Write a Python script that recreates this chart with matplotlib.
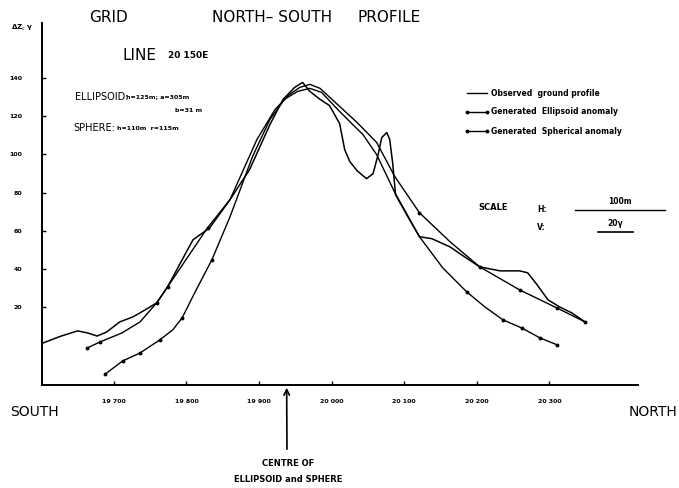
import numpy as np
import matplotlib
matplotlib.use("Agg")
import matplotlib.pyplot as plt
from matplotlib.lines import Line2D

W, H = 679, 488

# northing (m) and anomaly (gamma)
obs_x = [19602, 19626, 19650, 19664, 19677, 19690, 19708, 19726, 19743, 19759,
         19774, 19794, 19809, 19832, 19860, 19887, 19915, 19933, 19949, 19960,
         19970, 19984, 19997, 20011, 20018, 20025, 20035, 20048, 20057, 20064,
         20069, 20076, 20080, 20084, 20088, 20105, 20121, 20138, 20163, 20183,
         20204, 20232, 20259, 20270, 20282, 20298, 20314, 20331, 20349]
obs_y = [1.0, 4.5, 7.4, 6.3, 4.7, 6.8, 12.1, 14.7, 18.4, 22.1,
         30.5, 44.7, 55.2, 61.5, 76.3, 92.1, 115.7, 128.9, 135.2, 137.8,
         133.1, 128.9, 125.7, 116.2, 102.5, 96.3, 91.5, 87.3, 89.9, 99.9,
         108.9, 111.5, 107.8, 95.7, 78.9, 67.3, 56.8, 55.8, 51.5, 46.3,
         41.0, 38.9, 38.9, 37.9, 32.1, 23.7, 20.0, 16.8, 12.1]

ell_x = [19663, 19681, 19711, 19736, 19759, 19774, 19802, 19829, 19860, 19897,
         19922, 19942, 19956, 19970, 19984, 20011, 20035, 20062, 20087, 20121,
         20163, 20204, 20259, 20310, 20349]
ell_y = [-1.6, 1.6, 6.3, 12.1, 22.1, 30.5, 46.3, 61.5, 76.3, 107.8,
         123.6, 131.5, 135.2, 136.8, 134.7, 125.2, 116.8, 106.3, 88.4, 69.4,
         54.2, 41.0, 28.9, 19.5, 12.1]

sph_x = [19688, 19712, 19736, 19763, 19781, 19794, 19812, 19835, 19860, 19891,
         19915, 19935, 19953, 19970, 19986, 20011, 20029, 20043, 20062, 20087,
         20121, 20153, 20186, 20211, 20236, 20262, 20287, 20311]
sph_y = [-15.3, -8.4, -4.2, 2.6, 7.9, 14.2, 27.9, 44.7, 67.3, 98.9,
         118.4, 128.9, 133.1, 134.7, 132.6, 122.6, 115.7, 110.5, 99.9, 80.0,
         56.8, 40.5, 27.9, 20.0, 13.2, 8.9, 3.7, 0.0]

x_ticks = [19700, 19800, 19900, 20000, 20100, 20200, 20300]
x_labels = ["19 700", "19 800", "19 900", "20 000", "20 100", "20 200", "20 300"]
y_ticks = [20, 40, 60, 80, 100, 120, 140]
y_labels = ["20", "40", "60", "80", "100", "120", "140"]

centre_x = 19938


def px(x, y):
    """pixel position -> figure fraction"""
    return x / W, 1 - y / H


fig = plt.figure(figsize=(W / 100, H / 100), dpi=100)
ax = fig.add_axes([42 / W, 1 - 385 / H, (638 - 42) / W, (385 - 23) / H])

ax.plot(obs_x, obs_y, color="black", lw=1.1)
ax.plot(ell_x, ell_y, color="black", lw=1.0, marker="o", ms=1.8,
        markevery=[0, 1, 4, 5, 7, 19, 21, 22, 23, 24])
ax.plot(sph_x, sph_y, color="black", lw=1.0, marker="o", ms=1.8,
        markevery=[0, 1, 2, 3, 5, 7, 22, 24, 25, 26, 27])

ax.set_xlim(19601, 20422)
ax.set_ylim(-21, 169)
for s in ["top", "right"]:
    ax.spines[s].set_visible(False)
ax.spines["left"].set_linewidth(1.4)
ax.spines["bottom"].set_linewidth(1.4)

ax.set_xticks(x_ticks)
ax.set_xticklabels(x_labels, fontsize=4.5, fontweight="bold")
ax.set_yticks(y_ticks)
ax.set_yticklabels(y_labels, fontsize=4.5, fontweight="bold")
ax.tick_params(axis="both", direction="in", length=3, width=1)
ax.tick_params(axis="x", pad=10)
ax.tick_params(axis="y", pad=14)

# titles and notes
fig.text(*px(108, 18), "GRID", fontsize=11, ha="center", va="center")
fig.text(*px(272, 18), "NORTH\u2013 SOUTH", fontsize=11,
         ha="center", va="center")
fig.text(*px(389, 18), "PROFILE", fontsize=11, ha="center", va="center")
fig.text(*px(122, 55), "LINE", fontsize=11, ha="left", va="center")
fig.text(*px(168, 56), "20 150E", fontsize=6.5, fontweight="bold",
         ha="left", va="center")
fig.text(*px(75, 97), "ELLIPSOID:", fontsize=7, ha="left", va="center")
fig.text(*px(126, 97), "h=125m; a=305m", fontsize=4.5, fontweight="bold",
         ha="left", va="center")
fig.text(*px(175, 111), "b=31 m", fontsize=4.5, fontweight="bold",
         ha="left", va="center")
fig.text(*px(73, 128), "SPHERE:", fontsize=7, ha="left", va="center")
fig.text(*px(117, 128), "h=110m  r=115m", fontsize=4.5, fontweight="bold",
         ha="left", va="center")
fig.text(*px(22, 28), "\u0394Z$_c$ \u03b3", fontsize=5, fontweight="bold",
         ha="center", va="center")

# legend, drawn by hand
leg = [("Observed  ground profile", False, 93),
       ("Generated  Ellipsoid anomaly", True, 112),
       ("Generated  Spherical anomaly", True, 131)]
for label, marked, yy in leg:
    x0, y0 = px(467, yy)
    x1, _ = px(487, yy)
    fig.add_artist(Line2D([x0, x1], [y0, y0], color="black", lw=1.0,
                          marker="o" if marked else None, ms=1.8,
                          markevery=[0, 1] if marked else None))
    fig.text(*px(491, yy), label, fontsize=5.5, fontweight="bold",
             ha="left", va="center")

# scale bars
fig.text(*px(478, 208), "SCALE", fontsize=6, fontweight="bold",
         ha="left", va="center")
fig.text(*px(537, 209), "H:", fontsize=5.5, fontweight="bold",
         ha="left", va="center")
fig.text(*px(537, 228), "V:", fontsize=5.5, fontweight="bold",
         ha="left", va="center")
bx0, by0 = px(575, 210)
bx1, _ = px(665, 210)
fig.add_artist(Line2D([bx0, bx1], [by0, by0], color="black", lw=1.0))
fig.text(*px(620, 202), "100m", fontsize=5.5, fontweight="bold",
         ha="center", va="center")
vx0, vy0 = px(598, 232)
vx1, _ = px(633, 232)
fig.add_artist(Line2D([vx0, vx1], [vy0, vy0], color="black", lw=1.2))
fig.text(*px(615, 223), "20\u03b3", fontsize=5.5, fontweight="bold",
         ha="center", va="center")

# directions
fig.text(*px(10, 412), "SOUTH", fontsize=10, ha="left", va="center")
fig.text(*px(677, 412), "NORTH", fontsize=10, ha="right", va="center")

# centre arrow
ax.annotate("", xy=(centre_x, -21), xycoords="data",
            xytext=px(287, 452), textcoords="figure fraction",
            arrowprops=dict(arrowstyle="->", color="black", lw=1.2),
            annotation_clip=False)
fig.text(*px(288, 463), "CENTRE OF", fontsize=6, fontweight="bold",
         ha="center", va="center")
fig.text(*px(288, 480), "ELLIPSOID and SPHERE", fontsize=6,
         fontweight="bold", ha="center", va="center")

fig.savefig("out.png", dpi=100)
